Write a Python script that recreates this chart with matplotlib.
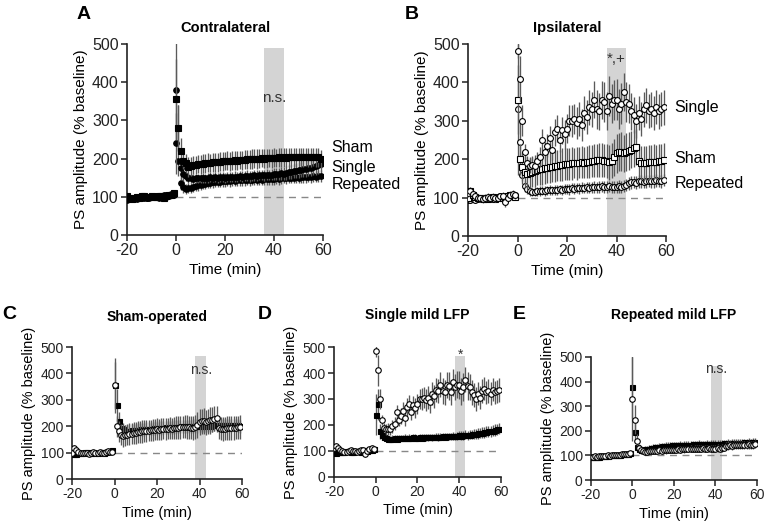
import numpy as np
import matplotlib
matplotlib.use("Agg")
import matplotlib.pyplot as plt

plt.rcParams['font.family'] = ['Liberation Sans', 'DejaVu Sans']
plt.rcParams['axes.unicode_minus'] = False

# time axis (min): 20 baseline sweeps, 60 post-stimulation sweeps
t_base = list(range(-20, 0))
t_post = list(range(0, 60))

# ---- contralateral (filled markers) ----
sham_c = [102, 96, 94, 97, 100, 98, 101, 103, 99, 100, 101, 99, 100, 103, 101, 98, 103, 105, 106, 109,
          355, 280, 220, 195, 188, 178, 180, 183, 184, 186,
          185, 187, 188, 189, 188, 190, 191, 190, 192, 193,
          193, 194, 193, 195, 196, 195, 197, 196, 197, 198,
          198, 199, 200, 199, 200, 201, 200, 201, 202, 201,
          202, 201, 203, 202, 203, 202, 203, 204, 203, 204,
          205, 204, 203, 205, 204, 203, 205, 204, 203, 199]
sham_c_err = [6, 5, 6, 5, 6, 5, 6, 6, 5, 6, 5, 6, 5, 6, 6, 5, 6, 6, 7, 7,
              105, 60, 35, 22, 25, 26, 25, 24, 24, 24,
              25, 24, 25, 25, 24, 25, 25, 24, 25, 25,
              24, 25, 25, 24, 25, 25, 24, 25, 25, 24,
              25, 25, 24, 25, 25, 24, 25, 25, 24, 25,
              25, 24, 25, 25, 24, 25, 25, 24, 25, 25,
              24, 25, 25, 24, 25, 25, 24, 25, 25, 24]

single_c = [96, 94, 95, 97, 98, 96, 99, 100, 97, 98, 99, 101, 100, 98, 102, 101, 100, 103, 104, 106,
            240, 280, 175, 160, 155, 150, 148, 147, 148, 149,
            148, 150, 149, 150, 151, 150, 151, 150, 152, 151,
            150, 152, 151, 152, 153, 152, 154, 153, 154, 155,
            154, 155, 156, 155, 156, 157, 156, 158, 157, 158,
            160, 159, 160, 162, 161, 163, 164, 165, 167, 168,
            170, 171, 172, 174, 175, 176, 178, 180, 183, 186]
single_c_err = [6, 5, 5, 6, 5, 6, 5, 5, 6, 5, 6, 5, 5, 6, 5, 6, 5, 6, 6, 6,
                80, 60, 30, 18, 14, 13, 12, 12, 13, 12,
                12, 13, 12, 13, 13, 12, 13, 13, 12, 13,
                13, 12, 13, 13, 14, 13, 13, 14, 13, 14,
                14, 13, 14, 14, 13, 14, 14, 15, 14, 15,
                15, 16, 16, 17, 17, 18, 18, 19, 19, 20,
                20, 20, 21, 21, 21, 22, 22, 22, 22, 22]

repeated_c = [92, 93, 94, 95, 95, 96, 97, 98, 98, 100, 101, 100, 102, 103, 103, 104, 105, 106, 107, 109,
              380, 195, 135, 125, 120, 122, 124, 126, 128, 130,
              131, 133, 134, 136, 137, 138, 139, 140, 140, 141,
              141, 142, 141, 143, 142, 143, 144, 143, 144, 145,
              144, 145, 146, 145, 146, 145, 147, 146, 147, 146,
              147, 148, 147, 148, 149, 148, 150, 149, 150, 151,
              150, 151, 152, 151, 153, 152, 154, 153, 155, 154]
repeated_c_err = [5, 5, 6, 5, 5, 6, 5, 5, 6, 5, 5, 6, 5, 5, 6, 5, 5, 6, 6, 6,
                  130, 40, 18, 14, 13, 13, 13, 14, 13, 14,
                  14, 13, 14, 14, 15, 14, 14, 15, 14, 15,
                  15, 14, 15, 15, 14, 15, 15, 14, 15, 15,
                  15, 14, 15, 15, 14, 15, 15, 14, 15, 15,
                  15, 14, 15, 15, 14, 15, 15, 14, 15, 15,
                  15, 14, 15, 15, 14, 15, 15, 14, 15, 15]

# ---- ipsilateral (open markers) ----
sham_i = [100, 118, 108, 102, 100, 99, 97, 98, 96, 100, 101, 97, 99, 102, 98, 100, 104, 106, 103, 101,
          355, 200, 180, 168, 162, 165, 168, 170, 172, 174,
          175, 177, 178, 180, 181, 182, 183, 184, 186, 187,
          188, 187, 189, 190, 189, 191, 192, 191, 193, 194,
          195, 196, 197, 198, 197, 196, 195, 192, 196, 205,
          215, 218, 220, 215, 218, 222, 225, 228, 232, 195,
          190, 189, 191, 192, 193, 194, 193, 195, 196, 197]
sham_i_err = [8, 9, 8, 7, 8, 7, 8, 7, 8, 7, 8, 7, 8, 7, 8, 7, 8, 8, 7, 8,
              90, 40, 38, 40, 42, 40, 41, 42, 40, 41,
              42, 41, 40, 42, 41, 42, 40, 41, 42, 41,
              42, 41, 42, 40, 42, 41, 42, 41, 42, 43,
              42, 43, 42, 43, 44, 43, 44, 45, 46, 48,
              50, 49, 50, 48, 49, 50, 48, 47, 46, 45,
              44, 45, 44, 45, 44, 45, 44, 45, 44, 44]

single_i = [112, 118, 110, 105, 100, 98, 96, 100, 102, 99, 101, 98, 100, 103, 105, 88, 100, 108, 110, 106,
            483, 410, 300, 220, 190, 183, 185, 183, 195, 205,
            250, 220, 235, 255, 225, 270, 280, 250, 275, 265,
            280, 300, 300, 305, 295, 305, 290, 320, 310, 335,
            330, 355, 330, 325, 355, 350, 325, 365, 345, 355,
            355, 330, 345, 375, 350, 345, 325, 315, 300, 320,
            305, 330, 340, 325, 330, 320, 335, 325, 330, 335]
single_i_err = [10, 9, 10, 9, 10, 9, 10, 9, 10, 9, 10, 9, 10, 9, 10, 12, 10, 9, 10, 9,
                20, 60, 40, 20, 18, 20, 22, 20, 24, 26,
                28, 25, 30, 32, 28, 35, 34, 32, 36, 38,
                38, 40, 42, 40, 42, 44, 42, 45, 44, 46,
                46, 48, 50, 48, 50, 52, 50, 52, 50, 52,
                54, 52, 54, 50, 52, 50, 48, 46, 45, 44,
                45, 46, 45, 44, 46, 45, 44, 45, 44, 45]

repeated_i = [95, 94, 96, 95, 97, 98, 97, 99, 100, 98, 101, 100, 102, 103, 101, 104, 105, 106, 107, 108,
              330, 245, 160, 130, 122, 116, 114, 115, 116, 117,
              118, 117, 119, 120, 119, 121, 120, 122, 121, 122,
              123, 122, 124, 123, 125, 124, 126, 125, 127, 126,
              127, 128, 127, 128, 129, 128, 127, 129, 128, 127,
              128, 129, 127, 130, 132, 138, 140, 141, 139, 142,
              143, 141, 142, 144, 143, 142, 145, 144, 143, 145]
repeated_i_err = [6, 5, 6, 5, 6, 5, 6, 5, 6, 5, 6, 5, 6, 5, 6, 5, 6, 5, 6, 5,
                  170, 60, 25, 15, 12, 12, 11, 12, 12, 12,
                  12, 13, 12, 13, 12, 13, 13, 12, 13, 13,
                  13, 14, 13, 14, 13, 14, 14, 13, 14, 14,
                  14, 15, 14, 15, 14, 15, 15, 14, 15, 15,
                  15, 16, 15, 16, 16, 17, 17, 16, 17, 17,
                  17, 16, 17, 16, 17, 16, 17, 16, 17, 16]

baseline_level = 100
time = np.array(t_base + t_post)

fig = plt.figure(figsize=(7.68, 5.28), dpi=100)


def style_axes(ax, tick_size):
    ax.set_xlim(-20, 60)
    ax.set_ylim(0, 500)
    ax.set_xticks([-20, 0, 20, 40, 60])
    ax.set_yticks([0, 100, 200, 300, 400, 500])
    for side in ['top', 'right']:
        ax.spines[side].set_visible(False)
    for side in ['left', 'bottom']:
        ax.spines[side].set_color('#222222')
        ax.spines[side].set_linewidth(1.2)
    ax.tick_params(direction='out', length=4, width=1.1, colors='#222222',
                   labelsize=tick_size, pad=2)
    ax.axhline(baseline_level, xmin=0.25, xmax=1.0, color='#888888',
               lw=1.0, ls=(0, (5, 4)), zorder=1)


def draw(ax, mean, err, marker, filled, ms, z):
    ax.errorbar(time, mean, yerr=err, fmt=marker, ms=ms,
                mfc='black' if filled else 'white', mec='black', mew=0.8,
                ecolor='#5a5a5a', elinewidth=0.95, capsize=0, zorder=z)


def labels(ax, title, size, pad):
    ax.set_title(title, fontsize=size, fontweight='bold', pad=pad)
    ax.set_xlabel('Time (min)', fontsize=size + 0.5, labelpad=3)
    ax.set_ylabel('PS amplitude (% baseline)', fontsize=size + 0.5, labelpad=3)


# panel A
axA = fig.add_axes([0.1654, 0.5549, 0.2552, 0.3617])
style_axes(axA, 11.5)
axA.axvspan(36, 44, ymax=0.98, color='#d4d4d4', lw=0, zorder=0)
draw(axA, repeated_c, repeated_c_err, 'o', True, 4.0, 3)
draw(axA, single_c, single_c_err, 'o', True, 4.0, 4)
draw(axA, sham_c, sham_c_err, 's', True, 4.0, 5)
labels(axA, 'Contralateral', 10.5, 9)
axA.text(40, 360, 'n.s.', ha='center', va='center', fontsize=11, color='#333333')
for name, y in [('Sham', 230), ('Single', 178), ('Repeated', 131)]:
    axA.text(63.5, y, name, ha='left', va='center', fontsize=11.5, clip_on=False)

# panel B
axB = fig.add_axes([0.6094, 0.553, 0.2578, 0.3636])
style_axes(axB, 11.5)
axB.axvspan(36, 44, ymax=0.98, color='#d4d4d4', lw=0, zorder=0)
draw(axB, repeated_i, repeated_i_err, 'o', False, 4.2, 3)
draw(axB, sham_i, sham_i_err, 's', False, 4.2, 4)
draw(axB, single_i, single_i_err, 'o', False, 4.2, 5)
labels(axB, 'Ipsilateral', 10.5, 9)
axB.text(40, 460, '*,+', ha='center', va='center', fontsize=11, color='#333333')
for name, y in [('Single', 336), ('Sham', 203), ('Repeated', 138)]:
    axB.text(63.5, y, name, ha='left', va='center', fontsize=11.5, clip_on=False)

# panels C, D, E
bottom_panels = [
    ([0.0938, 0.0928, 0.2214, 0.25], 'Sham-operated', sham_c, sham_c_err, sham_i, sham_i_err, 'n.s.', 413, 19),
    ([0.4349, 0.0966, 0.2174, 0.2462], 'Single mild LFP', single_c, single_c_err, single_i, single_i_err, '*', 470, 20),
    ([0.7695, 0.0909, 0.2161, 0.233], 'Repeated mild LFP', repeated_c, repeated_c_err, repeated_i, repeated_i_err, 'n.s.', 450, 27),
]
for rect, title, mc, ec, mi, ei, note, note_y, pad in bottom_panels:
    ax = fig.add_axes(rect)
    style_axes(ax, 10)
    ax.axvspan(38, 43, ymax=0.93, color='#d4d4d4', lw=0, zorder=0)
    draw(ax, mc, ec, 's', True, 3.6, 3)
    draw(ax, mi, ei, 'o', False, 4.0, 4)
    labels(ax, title, 10, pad)
    ax.text(40.5, note_y, note, ha='center', va='center', fontsize=10, color='#333333')

# panel letters
for letter, x, y in [('A', 0.100, 0.972), ('B', 0.527, 0.972), ('C', 0.003, 0.405),
                     ('D', 0.336, 0.405), ('E', 0.667, 0.405)]:
    fig.text(x, y, letter, fontsize=14, fontweight='bold', va='center', ha='left')

fig.savefig('out.png', dpi=100)
